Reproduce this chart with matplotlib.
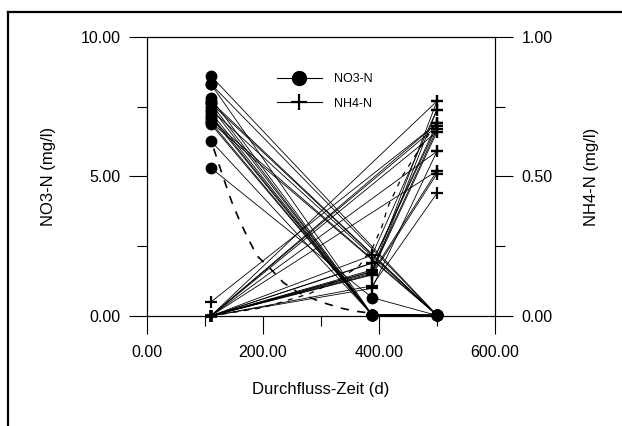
import numpy as np
import matplotlib
matplotlib.use("Agg")
import matplotlib.pyplot as plt
from matplotlib.lines import Line2D

plt.rcParams['font.family'] = ['Liberation Sans', 'DejaVu Sans']

# sampling times (d)
t = [110, 388, 500]

# one row per sampling series: value at t0, t1 (nan = not sampled), t2
no3_a = [8.61, 8.32, 8.32, 7.81, 7.70, 7.63, 7.49, 7.40, 7.31, 7.13, 7.05, 6.95, 6.88, 6.95, 7.20, 7.63, 6.28, 5.31]
no3_b = [np.nan, 0.05, np.nan, 0.04, np.nan, 0.03, 0.05, np.nan, 0.04, 0.03, np.nan, 0.05, 0.04, np.nan, 0.03, np.nan, 0.05, 0.66]
no3_c = [0.03, 0.02, 0.03, 0.03, 0.02, 0.03, 0.02, 0.03, 0.03, 0.02, 0.03, 0.03, 0.02, 0.03, 0.03, 0.02, 0.03, 0.02]

nh4_a = [0.0, 0.0, 0.0, 0.0, 0.05, 0.0, 0.0, 0.0, 0.0, 0.0, 0.0, 0.0, 0.0, 0.0, 0.0, 0.0, 0.0, 0.0]
nh4_b = [np.nan, 0.218, np.nan, 0.189, np.nan, 0.165, 0.159, np.nan, 0.154, 0.147, np.nan, 0.108, 0.099, np.nan, 0.16, np.nan, 0.15, 0.19]
nh4_c = [0.77, 0.74, 0.69, 0.68, 0.69, 0.67, 0.66, 0.59, 0.52, 0.51, 0.68, 0.44, 0.59, 0.52, 0.77, 0.66, 0.74, 0.69]

# fitted curves (dashed)
fit_no3_x = [115, 123, 135, 146, 160, 175, 190, 215, 235, 260, 300, 337, 360, 395]
fit_no3_y = [6.0, 5.5, 4.75, 4.1, 3.4, 2.75, 2.15, 1.65, 1.2, 0.85, 0.5, 0.27, 0.17, 0.08]
fit_nh4_x = [110, 200, 280, 330, 366, 390, 405, 415, 440, 470, 495]
fit_nh4_y = [0.0, 0.03, 0.08, 0.13, 0.18, 0.25, 0.32, 0.39, 0.5, 0.6, 0.68]

xticks = [0, 200, 400, 600]
xticks_minor = [100, 300, 500]
no3_ticks = [0, 5, 10]
no3_ticks_minor = [2.5, 7.5]
nh4_ticks = [0, 0.5, 1.0]
nh4_ticks_minor = [0.25, 0.75]

fig = plt.figure(figsize=(6.22, 4.26), dpi=100)
ax = fig.add_axes([0.2363, 0.2582, 0.5595, 0.655])
ax2 = ax.twinx()

lw = 0.6
for i in range(len(no3_a)):
    xs = np.array(t, dtype=float)
    ys = np.array([no3_a[i], no3_b[i], no3_c[i]])
    ok = ~np.isnan(ys)
    ax.plot(xs[ok], ys[ok], '-', color='black', lw=lw, marker='o', markersize=7.5,
            clip_on=False, zorder=3)
    ys2 = np.array([nh4_a[i], nh4_b[i], nh4_c[i]])
    ok2 = ~np.isnan(ys2)
    ax2.plot(xs[ok2], ys2[ok2], '-', color='black', lw=lw, marker='+', markersize=8,
             markeredgewidth=1.6, clip_on=False, zorder=3)

ax.plot(fit_no3_x, fit_no3_y, '--', color='black', lw=1.2, dashes=(5, 5))
ax2.plot(fit_nh4_x, fit_nh4_y, '--', color='black', lw=0.9, dashes=(4, 5))

ax.set_xlim(0, 600)
ax.set_ylim(0, 10)
ax2.set_ylim(0, 1)

ax.set_xticks(xticks)
ax.set_xticks(xticks_minor, minor=True)
ax.set_xticklabels([f"{v:.2f}" for v in xticks])
ax.set_yticks(no3_ticks)
ax.set_yticks(no3_ticks_minor, minor=True)
ax.set_yticklabels([f"{v:.2f}" for v in no3_ticks])
ax2.set_yticks(nh4_ticks)
ax2.set_yticks(nh4_ticks_minor, minor=True)
ax2.set_yticklabels([f"{v:.2f}" for v in nh4_ticks])

for a in (ax, ax2):
    a.tick_params(which='major', direction='out', length=13, width=0.8, labelsize=11.5, pad=6)
    a.tick_params(which='minor', direction='out', length=7, width=0.8)
    for s in a.spines.values():
        s.set_linewidth(0.8)
ax.tick_params(axis='x', which='major', pad=8)
ax.tick_params(axis='x', which='both', top=False)

ax.set_xlabel("Durchfluss-Zeit (d)", fontsize=12)
ax.set_ylabel("NO3-N (mg/l)", fontsize=12)
ax2.set_ylabel("NH4-N (mg/l)", fontsize=12)
ax.xaxis.set_label_coords(0.5, -0.235)
ax.yaxis.set_label_coords(-0.262, 0.5)
ax2.yaxis.set_label_coords(1.255, 0.5)

handles = [
    Line2D([], [], color='black', lw=0.8, marker='o', markersize=10),
    Line2D([], [], color='black', lw=0.8, marker='+', markersize=11, markeredgewidth=1.6),
]
ax2.legend(handles, ["NO3-N", "NH4-N"], loc='upper left', bbox_to_anchor=(0.34, 0.91),
           frameon=False, fontsize=9, handlelength=3.6, handletextpad=1.0, labelspacing=1.0)

# outer frame lines (top and left)
fig.add_artist(Line2D([8 / 622, 1.0], [1 - 12 / 426, 1 - 12 / 426], color='black', lw=1.6,
                      transform=fig.transFigure))
fig.add_artist(Line2D([8 / 622, 8 / 622], [0.0, 1 - 12 / 426], color='black', lw=1.6,
                      transform=fig.transFigure))

fig.savefig("out.png", dpi=100)
